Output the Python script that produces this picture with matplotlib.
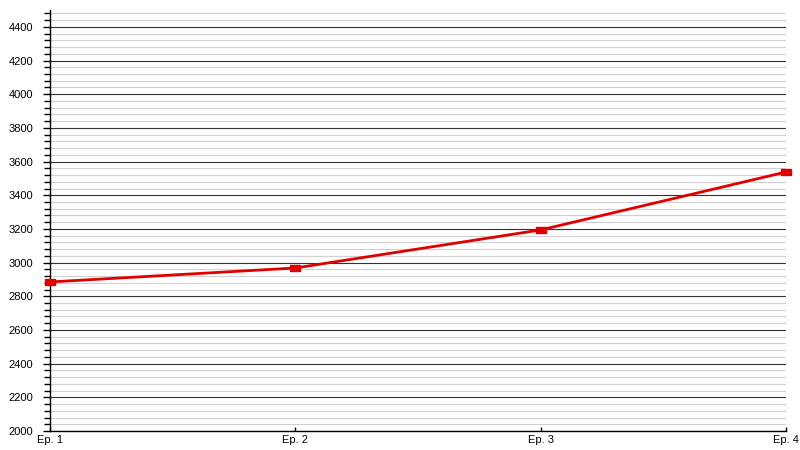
import matplotlib

matplotlib.use("Agg")
import matplotlib.pyplot as plt  # noqa: E402
from matplotlib.ticker import MultipleLocator  # noqa: E402

# data
episodes = ["Ep. 1", "Ep. 2", "Ep. 3", "Ep. 4"]
values = [2885, 2968, 3194, 3538]

plt.rcParams["font.family"] = ["Liberation Sans", "DejaVu Sans"]

fig = plt.figure(figsize=(8, 4.5), dpi=100)
ax = fig.add_axes([0.0625, 0.0422, 0.92, 0.9356])

# flat rectangle marker, wider than tall
rect = [(-1, -0.6), (1, -0.6), (1, 0.6), (-1, 0.6), (-1, -0.6)]

x = list(range(len(episodes)))
ax.plot(x, values, color="#e00000", linewidth=2, marker=rect, markersize=7.5,
        markerfacecolor="#e00000", markeredgecolor="#e00000", zorder=5,
        clip_on=False)

ax.set_xlim(0, len(episodes) - 1)
ax.set_ylim(2000, 4500)
ax.set_xticks(x)
ax.set_xticklabels(episodes, fontsize=8)
ax.yaxis.set_major_locator(MultipleLocator(200))
ax.yaxis.set_minor_locator(MultipleLocator(40))
ax.tick_params(axis="y", which="major", labelsize=8, length=5, width=1, pad=7)
ax.tick_params(axis="y", which="minor", length=4, width=1)
ax.tick_params(axis="x", direction="in", length=3, width=1, pad=3)

ax.grid(axis="y", which="major", color="#333333", linewidth=0.8)
ax.grid(axis="y", which="minor", color="#d0d0d0", linewidth=0.8)
ax.set_axisbelow(True)

for side in ("top", "right"):
    ax.spines[side].set_visible(False)
ax.spines["left"].set_linewidth(1)
ax.spines["bottom"].set_linewidth(1)

fig.savefig("out.png", dpi=100)
